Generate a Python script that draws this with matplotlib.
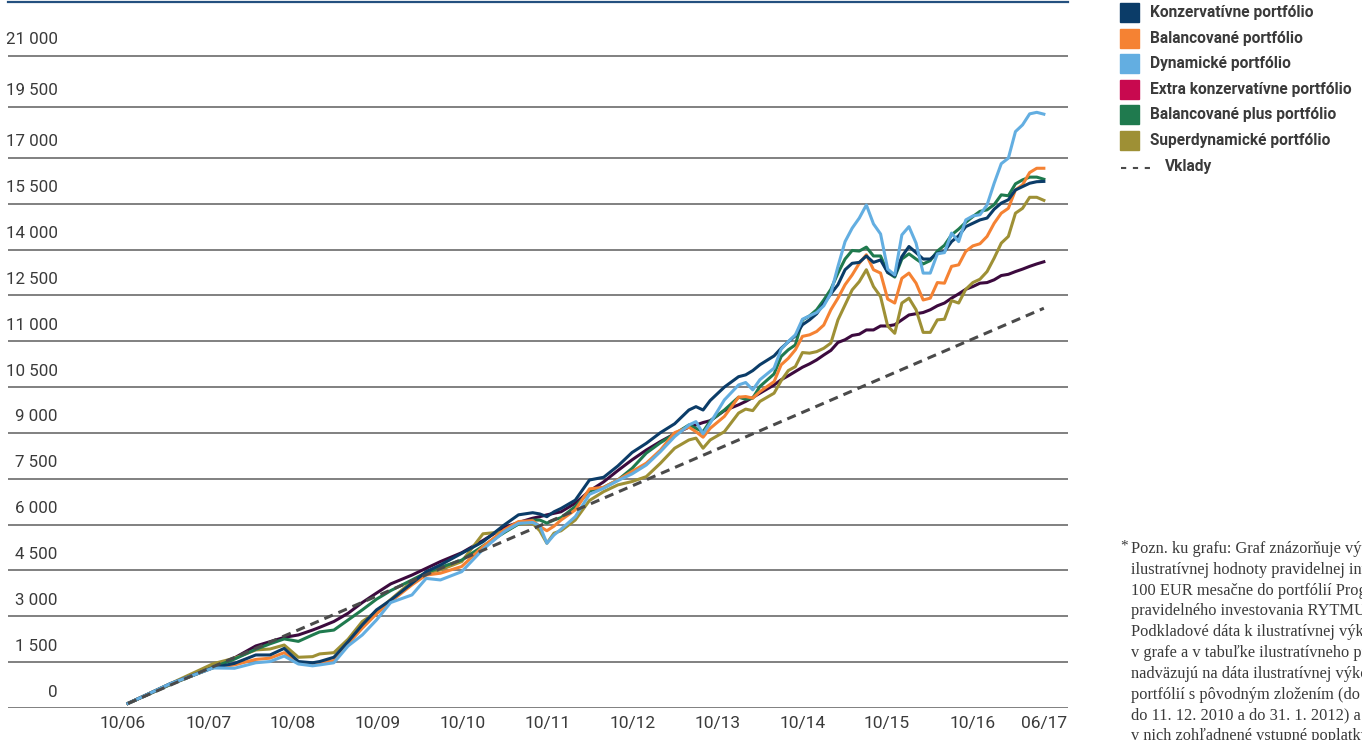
import matplotlib
matplotlib.use("Agg")
import matplotlib.pyplot as plt
from matplotlib import font_manager
from matplotlib.patches import Rectangle
from matplotlib.lines import Line2D

# month index from 10/2006
months = [0, 6, 12, 15, 18, 20, 22, 24, 26, 27, 29, 31, 33, 35,
          37, 40, 42, 44, 47, 50, 53, 55, 57, 58, 59, 60, 61, 63, 65,
          67, 69, 71, 73, 75, 77, 79, 80, 81, 82, 84, 86, 87, 88, 89, 91, 92, 93, 94, 95, 96, 97,
          98, 99, 100, 101, 102, 103, 104, 105, 106, 107, 108, 109, 110, 111, 112, 113,
          114, 115, 116, 117, 118, 119, 120, 121, 122, 123, 124, 125, 126, 127, 128, 129]

konzervativne = [150, 800, 1320, 1460, 1735, 1735, 1950, 1520, 1480, 1520, 1660, 2170, 2720, 3210,
                 3530, 4080, 4460, 4680, 5060, 5440, 5990, 6320, 6390, 6350, 6260, 6420, 6530, 6800, 7460,
                 7550, 7920, 8360, 8660, 9010, 9300, 9750, 9860, 9750, 10060, 10500, 10840, 10900, 11040,
                 11230, 11520, 11770, 11980, 12180, 12540, 12700, 12900,
                 13230, 13550, 13850, 14340, 14550, 14580, 14790, 14580, 14660, 14250, 14140, 14770, 15100,
                 14900, 14690, 14690, 14880, 14940, 15260, 15450, 15750, 15860, 15970, 16030, 16320, 16520,
                 16630, 16950, 17060, 17170, 17220, 17230]

balancovane = [150, 790, 1320, 1410, 1590, 1630, 1810, 1460, 1440, 1480, 1550, 2100, 2610, 3080,
               3480, 4030, 4350, 4410, 4630, 5280, 5830, 6100, 6130, 5940, 5800, 5950, 6150, 6480, 7170,
               7220, 7460, 7740, 8010, 8440, 9010, 9190, 9040, 8860, 9150, 9540, 10170, 10190, 10140,
               10350, 10680, 11230, 11440, 11720, 12160, 12210, 12320,
               12530, 13030, 13410, 13850, 14170, 14550, 14830, 14340, 14230, 13380, 13250, 14060, 14230,
               13900, 13350, 13410, 13920, 13900, 14450, 14500, 14940, 15120, 15190, 15430, 15860, 16190,
               16350, 16950, 17120, 17520, 17660, 17660]

dynamicke = [150, 800, 1310, 1300, 1480, 1520, 1700, 1440, 1380, 1410, 1480, 2030, 2390, 2880,
             3450, 3700, 4240, 4190, 4460, 5190, 5770, 6040, 6070, 5960, 5390, 5660, 5850, 6260, 6990,
             7190, 7440, 7660, 7950, 8390, 8880, 9260, 9370, 8970, 9320, 10080, 10570, 10650, 10410,
             10740, 11120, 11740, 11990, 12210, 12720, 12830, 12940,
             13160, 13570, 14450, 15260, 15700, 16030, 16460, 15840, 15510, 14360, 14170, 15480, 15750,
             15210, 14230, 14230, 14860, 14900, 15540, 15260, 15970, 16100, 16140, 16460, 17170, 17810,
             17990, 18860, 19080, 19440, 19490, 19430]

extra_konzervativne = [150, 780, 1340, 1640, 2030, 2170, 2310, 2390, 2550, 2640, 2830, 3100, 3450, 3760,
                       4060, 4350, 4570, 4790, 5080, 5480, 5910, 6070, 6210, 6260, 6320, 6370, 6420, 6700, 7100,
                       7400, 7770, 8120, 8440, 8720, 8970, 9190, 9260, 9340, 9400, 9730, 9920, 10030, 10160,
                       10300, 10570, 10740, 10870, 11010, 11150, 11260, 11390,
                       11550, 11700, 11960, 12050, 12190, 12230, 12370, 12370, 12500, 12500, 12540, 12700, 12860,
                       12900, 12940, 13030, 13160, 13250, 13410, 13550, 13700, 13790, 13900, 13920, 14010, 14150,
                       14190, 14280, 14360, 14450, 14530, 14600]

balancovane_plus = [150, 770, 1330, 1600, 1920, 2100, 2260, 2180, 2390, 2490, 2550, 2880, 3210, 3560,
                    3840, 4190, 4430, 4600, 4840, 5300, 5740, 6020, 6150, 6150, 6050, 6150, 6230, 6590, 7100,
                    7220, 7460, 7840, 8340, 8680, 8970, 9260, 9150, 9040, 9390, 9750, 10170, 10100, 10140,
                    10520, 10930, 11500, 11720, 11880, 12700, 12830, 13030,
                    13350, 13700, 14230, 14690, 14970, 14950, 15080, 14790, 14790, 14250, 14100, 14690, 14860,
                    14690, 14530, 14640, 14950, 15140, 15480, 15670, 15890, 16080, 16250, 16300, 16470, 16790,
                    16760, 17150, 17280, 17370, 17370, 17300]

superdynamicke = [150, 800, 1450, 1630, 1900, 1930, 2060, 1660, 1680, 1770, 1810, 2250, 2830, 3150,
                  3550, 4140, 4410, 4520, 4790, 5700, 5770, 6020, 6040, 5800, 5390, 5720, 5800, 6150, 6790,
                  7080, 7300, 7410, 7570, 8010, 8500, 8770, 8830, 8500, 8770, 9040, 9650, 9780, 9730,
                  10030, 10300, 10710, 11040, 11170, 11630, 11610, 11660,
                  11770, 11940, 12700, 13190, 13680, 13950, 14340, 13790, 13460, 12500, 12260, 13250, 13410,
                  13030, 12290, 12290, 12700, 12720, 13330, 13250, 13700, 13920, 14030, 14280, 14720, 15210,
                  15430, 16190, 16350, 16710, 16710, 16610]

vklady_months = [0, 129]
vklady = [150, 13080]

y_grid = [0, 1500, 3000, 4500, 6000, 7500, 9000, 10500, 12000, 13500, 15000, 16500, 18000, 19670, 21340]
y_labels = ["0", "1 500", "3 000", "4 500", "6 000", "7 500", "9 000", "10 500", "11 000",
            "12 500", "14 000", "15 500", "17 000", "19 500", "21 000"]
x_ticks = [-0.7, 11.3, 23.2, 35.2, 47.1, 59.1, 71.1, 83.0, 95.0, 106.9, 118.9, 129.0]
x_labels = ["10/06", "10/07", "10/08", "10/09", "10/10", "10/11", "10/12", "10/13",
            "10/14", "10/15", "10/16", "06/17"]

legend_names = ["Konzervatívne portfólio", "Balancované portfólio", "Dynamické portfólio",
                "Extra konzervatívne portfólio", "Balancované plus portfólio", "Superdynamické portfólio"]
legend_colors = ["#0b3c68", "#f58233", "#63aee1", "#c8094f", "#1f7a4e", "#9e9035"]

note_lines = [
    "Pozn. ku grafu: Graf znázorňuje vývoj",
    "ilustratívnej hodnoty pravidelnej investície",
    "100 EUR mesačne do portfólií Programu",
    "pravidelného investovania RYTMUS.",
    "Podkladové dáta k ilustratívnej výkonnosti",
    "v grafe a v tabuľke ilustratívneho prehľadu",
    "nadväzujú na dáta ilustratívnej výkonnosti",
    "portfólií s pôvodným zložením (do 1. 4. 2008,",
    "do 11. 12. 2010 a do 31. 1. 2012) a nie sú",
    "v nich zohľadnené vstupné poplatky.",
]

installed = {f.name for f in font_manager.fontManager.ttflist}
sans = "Liberation Sans Narrow" if "Liberation Sans Narrow" in installed else "Roboto"
text_color = "#3a3a3a"

W, H = 1362, 740
fig = plt.figure(figsize=(W / 100, H / 100), dpi=100)


def fx(px):
    return px / W


def fy(py):
    return 1 - py / H


ax = fig.add_axes([fx(8), fy(708), fx(1068) - fx(8), fy(2) - fy(708)])
ax.set_xlim(-16.9, 132.4)
ax.set_ylim(0, 23100)

for v in y_grid:
    ax.axhline(v, color="#6b6b6b", lw=1.2, zorder=1)

for v, lab in zip(y_grid, y_labels):
    ax.annotate(lab, xy=(0.047, v), xycoords=("axes fraction", "data"),
                xytext=(0, 11.5), textcoords="offset points",
                ha="right", va="center", fontsize=12.2, family=sans, color=text_color)

for side in ["left", "right", "bottom"]:
    ax.spines[side].set_visible(False)
ax.spines["top"].set_color("#24507f")
ax.spines["top"].set_linewidth(1.6)

ax.set_yticks([])
ax.set_xticks(x_ticks, x_labels)
ax.tick_params(axis="x", length=0, pad=6, labelsize=12.5, labelcolor=text_color)
for t in ax.get_xticklabels():
    t.set_family(sans)

lw = 2.2
ax.plot(months, extra_konzervativne, color="#3c0a3e", lw=lw, zorder=3)
ax.plot(months, superdynamicke, color=legend_colors[5], lw=lw, zorder=3)
ax.plot(months, balancovane_plus, color=legend_colors[4], lw=lw, zorder=3)
ax.plot(months, balancovane, color=legend_colors[1], lw=lw, zorder=3)
ax.plot(months, konzervativne, color=legend_colors[0], lw=lw, zorder=3)
ax.plot(months, dynamicke, color=legend_colors[2], lw=lw, zorder=3)
dep, = ax.plot(vklady_months, vklady, color="#4a4a4a", lw=lw, zorder=4)
dep.set_dashes([3, 2])

# legend on the right
row_y = [12, 38.3, 63.5, 89.3, 114.7, 140.7]
for name, col, y in zip(legend_names, legend_colors, row_y):
    fig.patches.append(Rectangle((fx(1120), fy(y + 9.5)), fx(19), 19 / H,
                                 transform=fig.transFigure, color=col))
    fig.text(fx(1150), fy(y), name, ha="left", va="center", fontsize=11.2,
             fontweight="bold", family=sans, color=text_color)
leg_line = Line2D([fx(1121), fx(1153)], [fy(168), fy(168)], transform=fig.transFigure,
                  color="#4a4a4a", lw=1.5)
leg_line.set_dashes([2.5, 3.2])
fig.lines.append(leg_line)
fig.text(fx(1165), fy(167), "Vklady", ha="left", va="center", fontsize=11.2,
         fontweight="bold", family=sans, color=text_color)

# footnote, runs off the right edge
fig.text(fx(1120), fy(546), "*", ha="left", va="center", fontsize=11,
         family="Liberation Serif", color=text_color)
for i, line in enumerate(note_lines):
    fig.text(fx(1131), fy(549 + 20.8 * i), line, ha="left", va="center", fontsize=11.8,
             family="Liberation Serif", color=text_color)

fig.savefig("out.png", dpi=100)
